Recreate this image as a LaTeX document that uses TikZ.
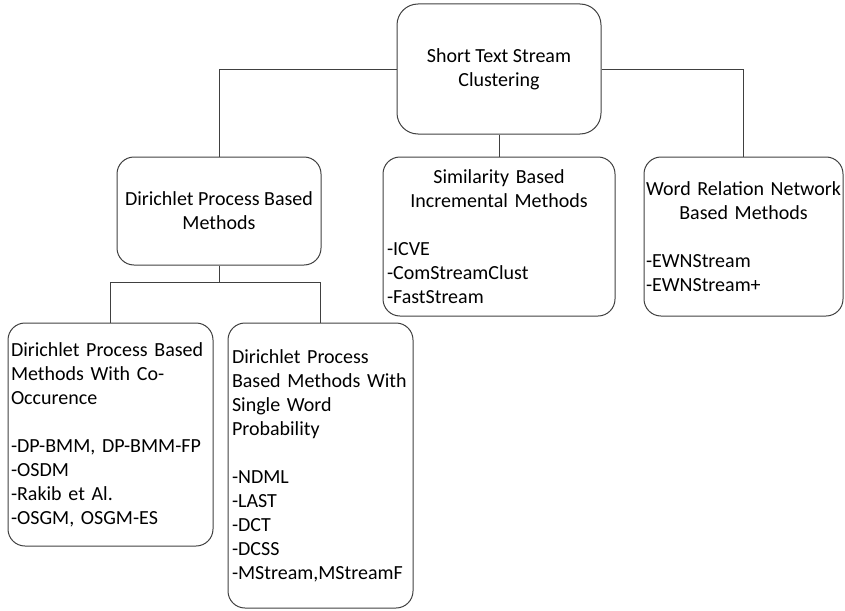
\documentclass[tikz,border=0pt]{standalone}
\usepackage{fontspec}
\setmainfont{Carlito}
\begin{document}
\begin{tikzpicture}[x=1pt,y=-1pt,
  box/.style={draw=black!75, line width=1pt, rounded corners=17pt, inner sep=0pt,
    font=\fontsize{20}{24}\selectfont, text=black},
  link/.style={draw=black!75, line width=1pt}]
\useasboundingbox (0,0) rectangle (845,610);

% root of the taxonomy
\node[box, rounded corners=21pt, minimum width=204pt, minimum height=130pt, align=center]
  (root) at (499,69) {Short Text Stream\\Clustering};

% second level
\node[box, minimum width=204pt, minimum height=108pt, align=center]
  (dp) at (219,211) {Dirichlet Process Based\\Methods};
\node[box, minimum width=232pt, minimum height=159pt, align=left, text width=224pt]
  (sim) at (499,236.5) {\makebox[224pt]{Similarity Based}\\\makebox[224pt]{Incremental Methods}\\[24pt]-ICVE\\-ComStreamClust\\-FastStream};
\node[box, minimum width=199pt, minimum height=159pt, align=left, text width=195pt]
  (word) at (743.5,236.5) {\makebox[195pt]{Word Relation Network}\\\makebox[195pt]{Based Methods}\\[24pt]-EWNStream\\-EWNStream+};

% third level under the Dirichlet process branch
\node[box, minimum width=205pt, minimum height=223pt, align=left, text width=199pt]
  (co) at (110.5,434.5) {Dirichlet Process Based\\Methods With Co-\\Occurence\\[24pt]-DP-BMM, DP-BMM-FP\\-OSDM\\-Rakib et Al.\\-OSGM, OSGM-ES};
\node[box, minimum width=185pt, minimum height=285pt, align=left, text width=177pt]
  (sw) at (320.5,465.5) {Dirichlet Process\\Based Methods With\\Single Word\\Probability\\[24pt]-NDML\\-LAST\\-DCT\\-DCSS\\-MStream,MStreamF};

% connectors
\draw[link] (root.west) -| (dp.north);
\draw[link] (root.east) -| (word.north);
\draw[link] (root.south) -- (sim.north);
\draw[link] (dp.south) -- ++(0,17) coordinate (split);
\draw[link] (co.north) |- (split) -| (sw.north);
\end{tikzpicture}
\end{document}
